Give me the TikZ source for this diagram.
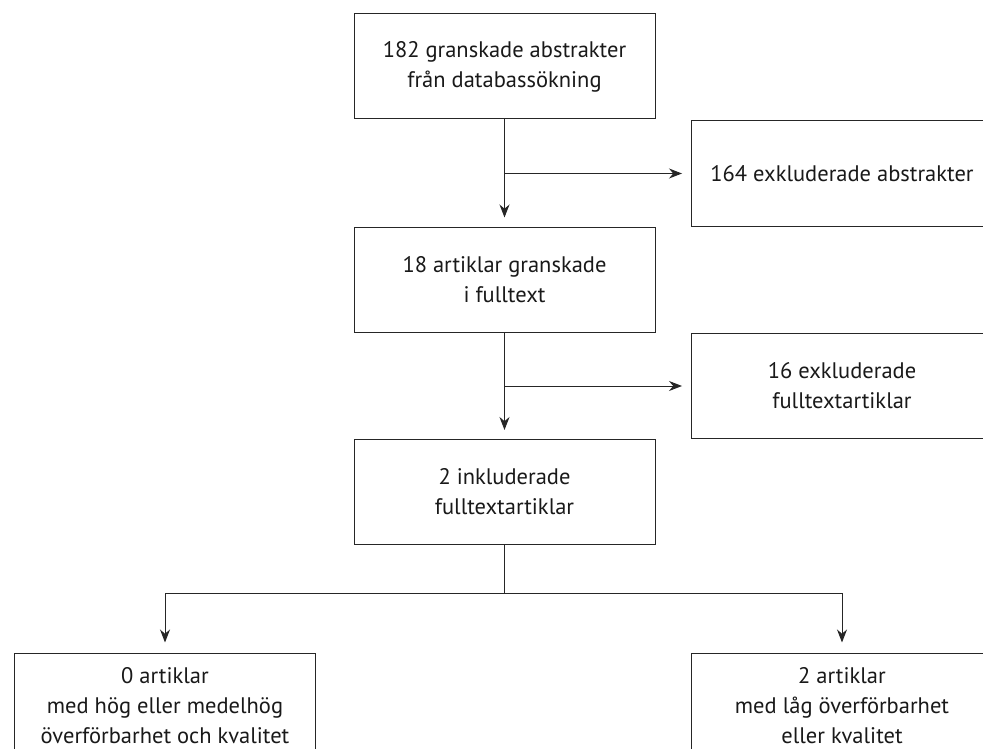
\documentclass[tikz,border=0pt]{standalone}
\usepackage{fontspec}
\setmainfont{PT Sans}
\usetikzlibrary{arrows.meta,calc}
\begin{document}
\begin{tikzpicture}[x=1pt,y=-1pt,
  box/.style={draw=black!85,line width=1pt,minimum width=301pt,minimum height=105pt,
    align=center,inner sep=0pt,font=\fontsize{22.5}{30}\selectfont,text=black!90},
  arr/.style={draw=black!85,line width=1pt,-{Stealth[length=13pt,width=10pt]},shorten >=9pt},
  ln/.style={draw=black!85,line width=1pt}]
\useasboundingbox (0,0) rectangle (983,749);
\clip (0,0) rectangle (983,749);
\node[box] (A) at (504.5,66.5) {182 granskade abstrakter\\från databassökning};
\node[box] (R1) at (842,173.5) {164 exkluderade abstrakter};
\node[box] (B) at (504.5,279.5) {18 artiklar granskade\\i fulltext};
\node[box] (R2) at (842,386) {16 exkluderade\\fulltextartiklar};
\node[box] (C) at (504.5,492) {2 inkluderade\\fulltextartiklar};
\node[box] (L) at (165,705.5) {0 artiklar\\med hög eller medelhög\\överförbarhet och kvalitet};
\node[box] (RR) at (842,705.5) {2 artiklar\\med låg överförbarhet\\eller kvalitet};
\draw[arr] (A.south) -- (B.north);
\draw[arr] (A.south |- R1.west) -- (R1.west);
\draw[arr] (B.south) -- (C.north);
\draw[arr] (B.south |- R2.west) -- (R2.west);
\coordinate (S) at ($(C.south)+(0,48)$);
\draw[ln] (C.south) -- (S);
\draw[arr,shorten >=10pt] (S) -| (L.north);
\draw[arr,shorten >=10pt] (S) -| (RR.north);
\end{tikzpicture}
\end{document}
